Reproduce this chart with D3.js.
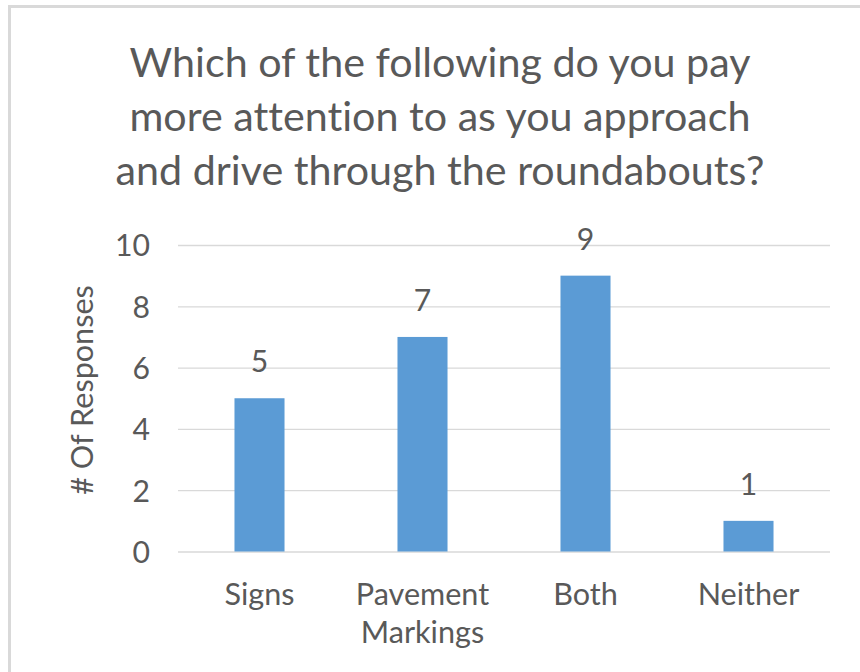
<!DOCTYPE html>
<html>
<head>
<meta charset="utf-8">
<script src="https://cdn.jsdelivr.net/npm/d3@7/dist/d3.min.js"></script>
<style>
  html, body { margin: 0; padding: 0; background: #fff; }
  svg { display: block; }
  text { font-family: Lato, "Open Sans", sans-serif; fill: #595959; font-variant-ligatures: none; }
</style>
</head>
<body>
<svg id="chart" width="860" height="672"></svg>
<script>
// Survey responses per category
const categories = ["Signs", "Pavement Markings", "Both", "Neither"];
const categoryLines = [["Signs"], ["Pavement", "Markings"], ["Both"], ["Neither"]];
const responses = [5, 7, 9, 1];
const yTicks = [0, 2, 4, 6, 8, 10];
const titleLines = [
  "Which of the following do you pay",
  "more attention to as you approach",
  "and drive through the roundabouts?"
];
const yAxisTitle = "# Of Responses";

const svg = d3.select("#chart");
const W = 860, H = 672;
const plot = { left: 178, right: 830, top: 245, bottom: 551.5 };

// Font size that makes a text element render at the target width
function fitWidth(sel, target) {
  const node = sel.node();
  const size = parseFloat(sel.attr("font-size"));
  const len = node.getComputedTextLength();
  return size * target / len;
}

// Chart frame
svg.append("rect")
  .attr("x", 9.5).attr("y", 6.5)
  .attr("width", W + 20).attr("height", H + 20)
  .attr("fill", "#fff")
  .attr("stroke", "#d9d9d9")
  .attr("stroke-width", 3);

const x = d3.scaleBand()
  .domain(categories)
  .range([plot.left, plot.right])
  .paddingInner(0.693)
  .paddingOuter(0.3465);

const y = d3.scaleLinear()
  .domain([0, 10])
  .range([plot.bottom, plot.top]);

// Title
const probe = svg.append("text").attr("font-size", 40).text(titleLines[0]);
const titleSize = fitWidth(probe, 621);
probe.remove();
const title = svg.append("text")
  .attr("text-anchor", "middle")
  .attr("font-size", titleSize);
[77, 131, 185].forEach((by, i) => {
  title.append("tspan").attr("x", 440).attr("y", by).text(titleLines[i]);
});

// Font sizes for axis labels
const probeTick = svg.append("text").attr("font-size", 30).text("10");
const tickSize = fitWidth(probeTick, 35);
probeTick.remove();
const probeCat = svg.append("text").attr("font-size", 30).text("Signs");
const catSize = fitWidth(probeCat, 70);
probeCat.remove();

// Gridlines and y tick labels
const yAxis = d3.axisLeft(y).tickValues(yTicks)
  .tickSize(-(plot.right - plot.left))
  .tickPadding(28)
  .tickFormat(d3.format("d"));
const yg = svg.append("g")
  .attr("transform", `translate(${plot.left},0)`)
  .call(yAxis);
yg.select(".domain").remove();
yg.selectAll(".tick line").attr("stroke", "#d9d9d9").attr("stroke-width", 1.3);
yg.selectAll(".tick text")
  .attr("font-size", tickSize)
  .attr("font-family", "Lato, 'Open Sans', sans-serif")
  .attr("fill", "#595959")
  .attr("dy", "0.36em");

// Bars
svg.append("g").selectAll("rect")
  .data(responses)
  .join("rect")
  .attr("x", (d, i) => x(categories[i]))
  .attr("y", d => y(d))
  .attr("width", x.bandwidth())
  .attr("height", d => y(0) - y(d))
  .attr("fill", "#5b9bd5");

// Data labels
svg.append("g").selectAll("text")
  .data(responses)
  .join("text")
  .attr("x", (d, i) => x(categories[i]) + x.bandwidth() / 2)
  .attr("y", d => y(d) - 26)
  .attr("text-anchor", "middle")
  .attr("font-size", tickSize)
  .text(d => d);

// Category labels
const xl = svg.append("g");
categories.forEach((c, i) => {
  const t = xl.append("text")
    .attr("text-anchor", "middle")
    .attr("font-size", catSize);
  categoryLines[i].forEach((line, j) => {
    t.append("tspan")
      .attr("x", x(c) + x.bandwidth() / 2)
      .attr("y", 605 + j * 38)
      .text(line);
  });
});

// Y axis title
svg.append("text")
  .attr("font-size", catSize)
  .attr("text-anchor", "middle")
  .attr("transform", "translate(93,390) rotate(-90)")
  .text(yAxisTitle);
</script>
</body>
</html>
